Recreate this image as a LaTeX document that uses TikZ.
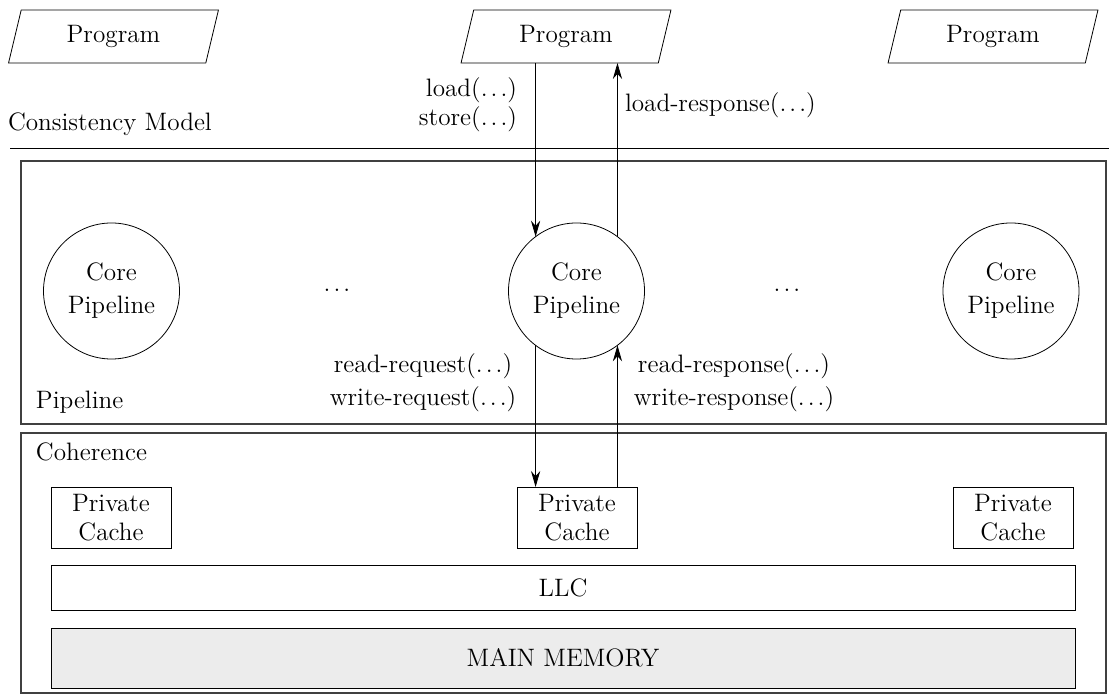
\documentclass[tikz,border=0pt]{standalone}
\usepackage{tikz}
\usetikzlibrary{positioning,shapes.geometric,arrows.meta}
\newcommand{\etcdots}{.\kern.12em.\kern.12em.}

\begin{document}
\begin{tikzpicture}[scale=0.1757, font=\fontsize{12.6}{14.5}\selectfont]
		\tikzstyle{every node}+=[inner sep=0pt, outer sep=0pt]
		\tikzstyle{prog}=[draw, trapezium, trapezium left angle=74, trapezium right angle=106, trapezium stretches=true, minimum width=105.5pt, minimum height=26.5pt]
		\tikzstyle{core}=[draw, circle, minimum size=68pt, align=center]
		\tikzstyle{cache}=[draw, minimum width=60pt, minimum height=30.5pt, align=center]
		\tikzstyle{bar}=[draw, minimum width=512pt]
		\tikzstyle{layer}=[draw=black!75, line width=0.55pt]
		\tikzstyle{msg}=[-{Stealth[length=8pt,width=4.6pt]}]
		\useasboundingbox (0,0) rectangle (110.9,-69.4);
		% programs and the consistency model
		\node [prog] (prog1) at (11.35,-3.65) {Program};
		\node [prog] (prog2) at (56.6,-3.65) {Program};
		\node [prog] (prog3) at (99.3,-3.65) {Program};
		\node [anchor=west] (cmodel) at (0.8,-12.4) {Consistency Model};
		\draw (1.0,-14.8) -- (110.9,-14.8);
		% pipeline layer
		\draw [layer] (2.1,-16.1) rectangle (110.6,-42.4);
		\node [core] (core1) at (11.15,-29.1) {Core\\[2pt]Pipeline};
		\node [core] (core2) at (57.65,-29.1) {Core\\[2pt]Pipeline};
		\node [core] (core3) at (101.1,-29.1) {Core\\[2pt]Pipeline};
		\node (dots1) at (33.7,-29.0) {\etcdots};
		\node (dots2) at (78.7,-29.0) {\etcdots};
		\node [anchor=west] (pipe) at (3.6,-40.2) {Pipeline};
		% coherence layer
		\draw [layer] (2.1,-43.3) rectangle (110.6,-69.3);
		\node [anchor=west] (coh) at (3.6,-45.2) {Coherence};
		\node [cache] (cache1) at (11.1,-51.75) {Private\\Cache};
		\node [cache] (cache2) at (57.7,-51.75) {Private\\Cache};
		\node [cache] (cache3) at (101.3,-51.75) {Private\\Cache};
		\node [bar, minimum height=22.5pt] (llc) at (56.3,-58.75) {LLC};
		\node [bar, minimum height=30pt, fill=gray!15] (mem) at (56.3,-65.8) {MAIN MEMORY};
		% messages
		\node [align=right, anchor=east] (ldst) at (51.7,-10.5) {load(\etcdots)\\store(\etcdots)};
		\node [anchor=west] (lresp) at (62.5,-10.5) {load-response(\etcdots)};
		\node [align=center] (req) at (42.3,-38.3) {read-request(\etcdots)\\[2pt]write-request(\etcdots)};
		\node [align=center] (resp) at (73.4,-38.3) {read-response(\etcdots)\\[2pt]write-response(\etcdots)};
		\draw [msg] (prog2.south -| core2.127) -- (core2.127);
		\draw [msg] (core2.53) -- (core2.53 |- prog2.south);
		\draw [msg] (core2.233) -- (core2.233 |- cache2.north);
		\draw [msg] (cache2.north -| core2.307) -- (core2.307);
\end{tikzpicture}
\end{document}
